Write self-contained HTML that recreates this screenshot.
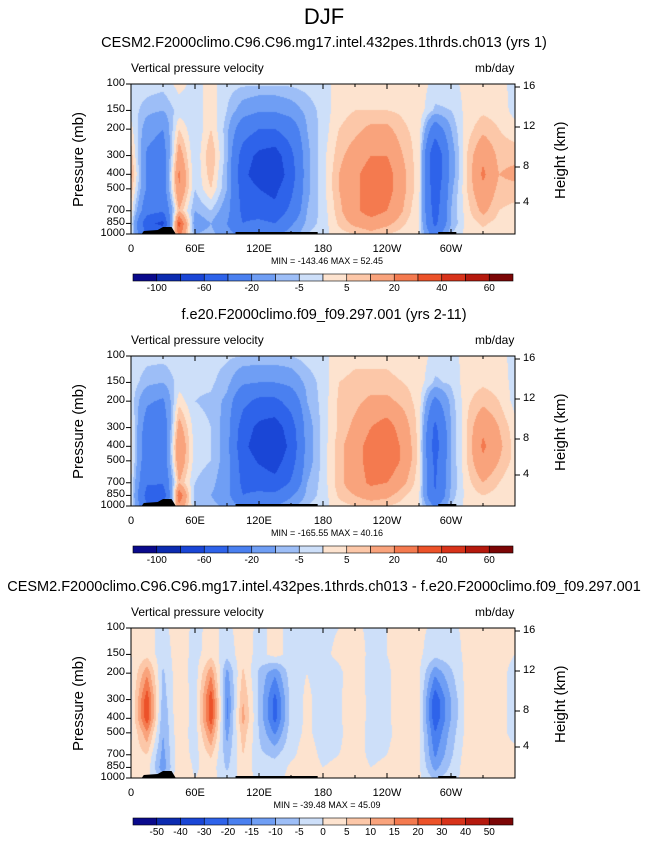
<!DOCTYPE html>
<html><head><meta charset="utf-8">
<style>
body{margin:0;background:#fff;width:648px;height:844px;position:relative;overflow:hidden;font-family:"Liberation Sans",sans-serif;color:#000}
.t{position:absolute;white-space:nowrap}
canvas{position:absolute}
svg{position:absolute;left:0;top:0}
</style></head>
<body>
<div class="t" style="left:0;width:648px;text-align:center;top:4px;font-size:22px">DJF</div>
<div id="root"></div>
<svg id="ov" width="648" height="844"></svg>
<script>
const lons=[0,15,30,45,60,75,90,105,120,135,150,165,180,195,210,225,240,255,270,285,300,315,330,345];
const levels=[100,150,200,300,400,500,700,850,1000];
const p1=[
[-2,-2,-3,2,-2,2,-3,-4,-4,-4,-4,-3,-2,2,3,2,3,2,3,-2,-2,2,3,2],
[-2,-8,-10,-3,-3,3,-5,-14,-18,-18,-14,-8,-3,3,5,5,5,4,3,-6,-5,2,4,3],
[2,-15,-20,5,-5,5,-8,-30,-40,-40,-30,-10,-3,5,8,12,12,6,3,-30,-10,3,8,5],
[8,-22,-28,15,-5,10,-8,-50,-65,-70,-45,-12,-2,8,14,20,20,10,2,-60,-15,5,18,8],
[12,-22,-28,22,-5,8,-10,-55,-70,-75,-50,-12,-2,10,18,25,25,12,2,-60,-15,5,22,10],
[8,-22,-28,20,-5,5,-10,-50,-60,-65,-45,-12,-2,10,18,25,25,12,2,-55,-12,5,18,8],
[3,-32,-38,10,-10,-5,-15,-45,-50,-55,-35,-10,-3,8,18,25,20,10,0,-50,-10,3,12,5],
[0,-55,-65,35,-15,-10,-20,-40,-35,-40,-22,-8,-3,6,12,15,12,6,0,-45,-10,2,6,3],
[0,-45,-45,25,-10,-8,-15,-25,-20,-22,-15,-5,-2,3,5,8,5,3,0,-30,-5,2,3,2]];
const p2=[
[-2,-3,-3,-2,-3,-3,-4,-5,-5,-5,-5,-3,-2,3,4,4,4,3,3,-2,-2,2,3,2],
[-2,-8,-10,-3,-4,-4,-8,-18,-20,-20,-16,-8,-3,5,6,6,6,5,3,-6,-4,3,4,3],
[-2,-18,-22,3,-5,-6,-12,-35,-45,-45,-32,-10,-3,6,8,12,12,8,3,-25,-8,4,8,5],
[2,-28,-32,14,-3,-5,-14,-50,-65,-70,-50,-14,-3,6,12,20,25,15,3,-45,-10,5,18,10],
[3,-32,-32,20,-3,-5,-14,-55,-70,-75,-55,-14,-3,8,15,25,28,18,3,-50,-10,5,22,12],
[3,-32,-32,18,-3,-5,-14,-50,-62,-68,-50,-14,-3,8,15,25,28,18,3,-45,-10,5,18,10],
[0,-38,-38,10,-5,-8,-15,-45,-50,-55,-38,-10,-3,8,15,22,20,12,2,-42,-10,3,10,5],
[0,-48,-55,28,-8,-10,-15,-40,-35,-35,-22,-8,-3,6,10,14,12,6,1,-40,-8,2,5,3],
[0,-38,-38,18,-5,-8,-12,-22,-20,-20,-12,-5,-2,3,5,6,5,3,0,-22,-5,2,3,2]];
const p3=[
[0,1,-1,2,-1,1,-1,2,-1,1,-1,0,-1,0,1,-1,0,1,1,-1,-1,1,1,0],
[0,3,-3,3,-2,3,-3,3,-2,2,-2,0,-1,1,2,-1,0,2,1,-3,-2,1,2,1],
[-1,14,-6,4,-3,14,-12,6,-6,-14,-2,0,-2,-1,3,-2,-1,3,1,-14,-6,2,3,1],
[-1,24,-8,5,-3,24,-16,10,-6,-22,-3,1,-2,-1,4,-2,-1,3,1,-24,-10,2,4,1],
[-1,24,-10,5,-3,24,-16,12,-6,-22,-3,1,-2,-1,4,-2,-1,3,1,-24,-10,2,4,1],
[-1,14,-10,4,-3,16,-12,8,-5,-16,-2,1,-2,-1,3,-2,-1,2,1,-20,-8,2,3,1],
[1,5,-12,4,-2,6,-8,5,-4,-6,-1,2,-1,0,2,-1,0,2,1,-16,-6,3,3,1],
[2,3,-14,5,-1,3,-6,4,-3,-3,1,2,0,1,2,0,1,2,1,-12,-4,3,2,1],
[1,2,-6,3,0,2,-3,2,-1,-1,1,1,0,1,1,0,1,1,1,-6,-2,2,1,1]];
const b12=[-100,-80,-60,-40,-20,-10,-5,0,5,10,20,30,40,50,60];
const lab12=["-100","-60","-20","-5","5","20","40","60"];
const b3=[-50,-40,-30,-20,-15,-10,-5,0,5,10,15,20,30,40,50];
const lab3=["-50","-40","-30","-20","-15","-10","-5","0","5","10","15","20","30","40","50"];
const cols=["#0a0a8c","#0c2bb0","#1a46d6","#2e63ea","#4a80f0","#6f9ef4","#9dbef7","#cddff9","#fde3cf","#fcc7a8","#f9a37c","#f47a4f","#ec5229","#d8331a","#b5190d","#7c0606"];
const xTicks=[0,60,120,180,240,300];
const xLabs=["0","60E","120E","180","120W","60W"];
const hTicks=[16,12,8,4];
const hPix=[3,43,83,119];

const X0=131,W=384,H=150;
const xs=lon=>X0+lon*W/360;
const ys=(p,top)=>top+Math.log10(p/100)*H;

const panels=[
 {top:84,data:p1,bnd:b12,labs:lab12,labIdx:[0,2,4,6,8,10,12,14],title:"CESM2.F2000climo.C96.C96.mg17.intel.432pes.1thrds.ch013 (yrs 1)",mm:"MIN = -143.46  MAX =  52.45",n:"panel-1"},
 {top:356,data:p2,bnd:b12,labs:lab12,labIdx:[0,2,4,6,8,10,12,14],title:"f.e20.F2000climo.f09_f09.297.001 (yrs 2-11)",mm:"MIN = -165.55  MAX =  40.16",n:"panel-2"},
 {top:628,data:p3,bnd:b3,labs:lab3,labIdx:[0,1,2,3,4,5,6,7,8,9,10,11,12,13,14],title:"CESM2.F2000climo.C96.C96.mg17.intel.432pes.1thrds.ch013 - f.e20.F2000climo.f09_f09.297.001",mm:"MIN = -39.48  MAX =  45.09",n:"panel-3"}];

const root=document.getElementById('root');
const ov=document.getElementById('ov');
const NS="http://www.w3.org/2000/svg";
function sv(tag,attrs,name){const e=document.createElementNS(NS,tag);for(const k in attrs)e.setAttribute(k,attrs[k]);


ov.appendChild(e);return e;}
function txt(s,l,t,fs,name,extra){const d=document.createElement('div');d.className='t';d.textContent=s;d.style.cssText=`left:${l}px;top:${t}px;font-size:${fs}px;`+(extra||'');


root.appendChild(d);return d;}
function colorFor(v,b){let i=0;while(i<b.length&&v>=b[i])i++;return cols[i];}

panels.forEach(P=>{
 const top=P.top;
 txt(P.title,0,top-49,14.5,P.n+'-title','width:648px;text-align:center;');
 txt("Vertical pressure velocity",X0,top-23,12,P.n+'-left-label');
 txt("mb/day",475,top-23,12,P.n+'-units');
 const cv=document.createElement('canvas');cv.width=W;cv.height=H;cv.style.left=X0+'px';cv.style.top=top+'px';
 
 
 root.appendChild(cv);
 const ctx=cv.getContext('2d');
 const ly=levels.map(p=>ys(p,top)-top);
 const nl=lons.length;
 for(let py=0;py<H;py++){
  const yy=py+0.5;let k=0;while(k<ly.length-2&&yy>ly[k+1])k++;
  let fy=(yy-ly[k])/(ly[k+1]-ly[k]);fy=Math.max(0,Math.min(1,fy));
  for(let px=0;px<W;px++){
   const lon=(px+0.5)*360/W;
   const j=Math.floor(lon/15)%nl, j2=(j+1)%nl, fx=(lon-lons[j])/15;
   const a=P.data[k][j]*(1-fx)+P.data[k][j2]*fx;
   const b=P.data[k+1][j]*(1-fx)+P.data[k+1][j2]*fx;
   ctx.fillStyle=colorFor(a*(1-fy)+b*fy,P.bnd);ctx.fillRect(px,py,1,1);
  }
 }
 const bot=top+H;
 sv('path',{d:`M${xs(10)} ${bot} L${xs(12)} ${bot-3} L${xs(25)} ${bot-4} L${xs(30)} ${bot-7} L${xs(38)} ${bot-7} L${xs(42)} ${bot} Z`,fill:'#000'},P.n+'-terrain-africa');
 sv('rect',{x:xs(98),y:bot-2,width:xs(175)-xs(98),height:2,fill:'#000'},P.n+'-terrain-asia');
 sv('rect',{x:xs(288),y:bot-2,width:xs(305)-xs(288),height:2,fill:'#000'},P.n+'-terrain-andes');
 sv('rect',{x:X0,y:top,width:W,height:H,fill:'none',stroke:'#000','stroke-width':1},P.n+'-frame');
 levels.forEach(p=>{const y=ys(p,top);
  sv('line',{x1:X0-5,x2:X0,y1:y,y2:y,stroke:'#000'},P.n+'-p-tick');
  txt(String(p),X0-36,y-7,11,P.n+'-p-label','width:30px;text-align:right;');});
 const yl=txt("Pressure (mb)",0,0,15,P.n+'-y-axis-title','transform-origin:0 0;transform:rotate(-90deg);');
 yl.style.left='70px';yl.style.top=(top+H/2+48)+'px';
 hTicks.forEach((h,i)=>{const y=top+hPix[i];
  sv('line',{x1:X0+W,x2:X0+W+5,y1:y,y2:y,stroke:'#000'},P.n+'-h-tick');
  txt(String(h),X0+W+8,y-7,11,P.n+'-h-label');});
 const hl=txt("Height (km)",0,0,15,P.n+'-right-axis-title','transform-origin:0 0;transform:rotate(-90deg);');
 hl.style.left='552px';hl.style.top=(top+H/2+40)+'px';
 for(let lon=0;lon<=360;lon+=30){const x=xs(lon);const big=lon%60===0;
  sv('line',{x1:x,x2:x,y1:bot,y2:bot-(big?5:3),stroke:'#000'},P.n+'-x-tick');
  sv('line',{x1:x,x2:x,y1:top,y2:top+(big?5:3),stroke:'#000'},P.n+'-x-tick-top');}
 xTicks.forEach((l,i)=>{txt(xLabs[i],xs(l)-20,bot+9,11,P.n+'-x-label','width:40px;text-align:center;');});
 txt(P.mm,0,bot+22,9,P.n+'-min-max','width:648px;text-align:center;padding-left:6px;box-sizing:border-box;');
 const cbx=133,cbw=380,cby=bot+40,bw=cbw/16;
 cols.forEach((c,i)=>sv('rect',{x:cbx+i*bw,y:cby,width:bw,height:7,fill:c,stroke:'#000','stroke-width':0.6},P.n+'-colorbar-box'));
 P.labIdx.forEach((bi,i)=>{txt(P.labs[i],cbx+(bi+1)*bw-20,cby+9,10,P.n+'-colorbar-label','width:40px;text-align:center;');});
});
</script>
</body></html>
